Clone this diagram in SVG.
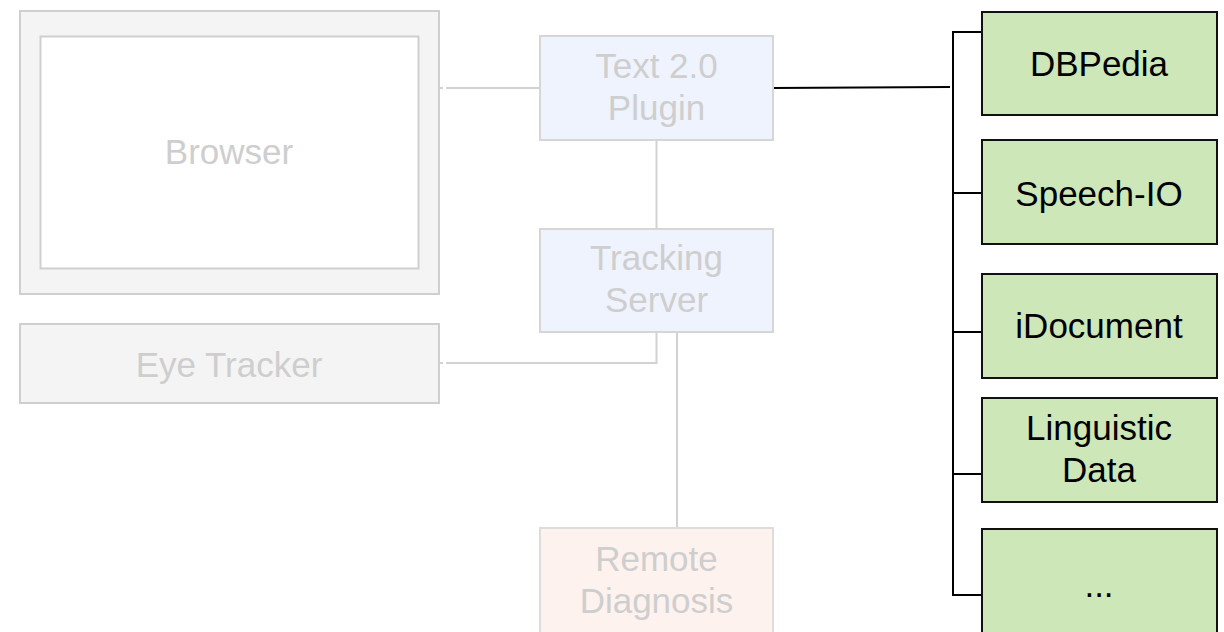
<svg xmlns="http://www.w3.org/2000/svg" width="1224" height="632" viewBox="0 0 1224 632">
<style>
text{font-family:"Liberation Sans",Arial,Helvetica,sans-serif;font-size:35px;text-anchor:middle}
.g{fill:#cecece}
.k{fill:#000}
.gl{stroke:#d2d2d2;stroke-width:2;fill:none}
.bl{stroke:#000;stroke-width:2;fill:none}
.grn{fill:#cde7b9;stroke:#111;stroke-width:2}
</style>
<rect width="1224" height="632" fill="#fff"/>
<g id="connectors">
<line class="gl" x1="439" y1="88" x2="443" y2="88"/>
<line class="gl" x1="446" y1="88" x2="540" y2="88"/>
<line class="gl" x1="656.5" y1="140" x2="656.5" y2="229"/>
<polyline class="gl" points="439,363 443,363"/>
<polyline class="gl" points="446,363 656.5,363 656.5,332"/>
<line class="gl" x1="677" y1="332" x2="677" y2="528"/>
<line class="bl" x1="773" y1="88" x2="950" y2="87"/>
<polyline class="bl" points="982,32 953,32 953,595 982,595"/>
<line class="bl" x1="953" y1="193" x2="982" y2="193"/>
<line class="bl" x1="953" y1="332" x2="982" y2="332"/>
<line class="bl" x1="953" y1="474" x2="982" y2="474"/>
</g>
<g id="browser">
<rect x="20" y="11" width="419" height="283" fill="#f4f4f4" stroke="#cfcfcf" stroke-width="2"/>
<rect x="40.5" y="36.5" width="378" height="232" fill="#fff" stroke="#cfcfcf" stroke-width="2"/>
<text class="g" x="229" y="164">Browser</text>
</g>
<g id="eye-tracker">
<rect x="20" y="324" width="419" height="79" fill="#f4f4f4" stroke="#cfcfcf" stroke-width="2"/>
<text class="g" x="229" y="377">Eye Tracker</text>
</g>
<g id="plugin">
<rect x="540" y="36" width="233" height="104" fill="#eef3fd" stroke="#d6d6d6" stroke-width="2"/>
<text class="g" x="656.5" y="78">Text 2.0</text>
<text class="g" x="656.5" y="120">Plugin</text>
</g>
<g id="tracking-server">
<rect x="540" y="229" width="233" height="103" fill="#eef3fd" stroke="#d6d6d6" stroke-width="2"/>
<text class="g" x="656.5" y="270">Tracking</text>
<text class="g" x="656.5" y="312">Server</text>
</g>
<g id="remote-diagnosis">
<rect x="540" y="528" width="233" height="110" fill="#fdf2ee" stroke="#dcdcdc" stroke-width="2"/>
<text class="g" x="656.5" y="571">Remote</text>
<text class="g" x="656.5" y="613">Diagnosis</text>
</g>
<g id="dbpedia">
<rect class="grn" x="982" y="12" width="235" height="103"/>
<text class="k" x="1099" y="76">DBPedia</text>
</g>
<g id="speech-io">
<rect class="grn" x="982" y="140" width="235" height="104"/>
<text class="k" x="1099" y="206">Speech-IO</text>
</g>
<g id="idocument">
<rect class="grn" x="982" y="274" width="235" height="104"/>
<text class="k" x="1099" y="338">iDocument</text>
</g>
<g id="linguistic-data">
<rect class="grn" x="982" y="398" width="235" height="104"/>
<text class="k" x="1099" y="440">Linguistic</text>
<text class="k" x="1099" y="482">Data</text>
</g>
<g id="more">
<rect class="grn" x="982" y="529" width="235" height="110"/>
<text class="k" x="1099" y="597">...</text>
</g>
</svg>
